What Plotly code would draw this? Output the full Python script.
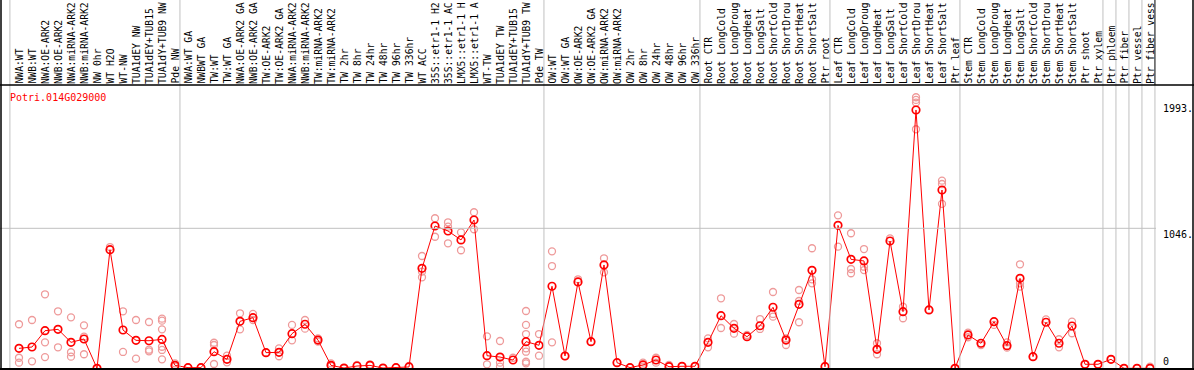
import plotly.graph_objects as go

# ---------------- data ----------------
labels = [
    "NWA:WT", "NWB:WT", "NWA:OE-ARK2", "NWB:OE-ARK2", "NWA:miRNA-ARK2", "NWB:miRNA-ARK2",
    "NW 0hr", "WT H2O", "WT-NW", "TUA1dEY NW", "TUA1dEY+TUB15", "TUA1dY+TUB9 NW", "Pde NW",
    "NWA:WT GA", "NWBWT GA", "TW:WT", "TW:WT GA", "NWA:OE-ARK2 GA", "NWB:OE-ARK2 GA",
    "TW:OE-ARK2", "TW:OE-ARK2 GA", "NWA:miRNA-ARK2", "NWB:miRNA-ARK2", "TW:miRNA-ARK2",
    "TW:miRNA-ARK2", "TW 2hr", "TW 8hr", "TW 24hr", "TW 48hr", "TW 96hr", "TW 336hr",
    "WT ACC", "35S::etr1-1 H2", "35S::etr1-1 AC", "LMX5::etr1-1 H", "LMX5::etr1-1 A",
    "WT-TW", "TUA1dEY TW", "TUA1dEY+TUB15", "TUA1dY+TUB9 TW", "Pde TW",
    "OW:WT", "OW:WT GA", "OW:OE-ARK2", "OW:OE-ARK2 GA", "OW:miRNA-ARK2", "OW:miRNA-ARK2",
    "OW 2hr", "OW 8hr", "OW 24hr", "OW 48hr", "OW 96hr", "OW 336hr",
    "Root CTR", "Root LongCold", "Root LongDroug", "Root LongHeat", "Root LongSalt",
    "Root ShortCold", "Root ShortDrou", "Root ShortHeat", "Root ShortSalt", "Ptr root",
    "Leaf CTR", "Leaf LongCold", "Leaf LongDroug", "Leaf LongHeat", "Leaf LongSalt",
    "Leaf ShortCold", "Leaf ShortDrou", "Leaf ShortHeat", "Leaf ShortSalt", "Ptr leaf",
    "Stem CTR", "Stem LongCold", "Stem LongDroug", "Stem LongHeat", "Stem LongSalt",
    "Stem ShortCold", "Stem ShortDrou", "Stem ShortHeat", "Stem ShortSalt", "Ptr shoot",
    "Ptr xylem", "Ptr phloem", "Ptr fiber", "Ptr vessel", "Ptr fiber vess",
]

mean_values = [
    149, 159, 281, 291, 194, 219, 0, 886, 286, 209, 206, 216, 22,
    5, 5, 124, 67, 351, 378, 117, 119, 259, 329, 211, 22, 2, 17, 22, 2, 5, 10,
    747, 1063, 1026, 959, 1108, 94, 84, 62, 199, 172,
    613, 92, 645, 199, 772, 42, 5, 25, 62, 12, 15, 15,
    194, 393, 299, 236, 318, 456, 211, 478, 732, 12,
    1068, 814, 802, 142, 951, 423, 1930, 436, 1332, 0,
    249, 187, 348, 169, 672, 87, 344, 187, 316, 30, 30, 67, 0, 0, 0,
]

replicates = [
    [329, 79, 42], [361, 52], [553, 194, 84], [426, 157], [381, 120, 87], [321, 236, 105],
    [0], [906], [426, 122], [361, 72], [346, 139, 127], [371, 356, 291, 161, 137, 67], [37, 12],
    [5], [5], [191, 174, 32], [94, 45], [411, 291], [406, 361], [117], [149, 90], [324, 209],
    [361, 296], [224, 199], [37, 17], [0], [25], [30], [2], [5], [17],
    [839, 722, 680], [1121, 983], [1091, 1058, 934], [1016, 882], [1166, 1039],
    [239, 30], [204, 42, 12], [79], [428, 324, 256, 149, 124, 49, 37], [256, 94],
    [874, 764, 194], [92], [665], [199], [822, 717], [42], [5], [42, 12], [79, 42], [25], [15], [15],
    [224, 157], [523, 301], [331, 259], [249], [368, 294], [570, 406, 386], [224, 174],
    [585, 503, 344], [897, 665, 635], [17],
    [1143, 909], [1009, 742, 710], [891, 759, 734], [187, 105], [971], [460, 374],
    [2025, 2005, 1985, 1786], [436], [1402, 1377, 1228], [0],
    [266, 232], [174], [324], [194, 154], [777, 635, 610], [87], [366], [217, 157], [348, 262],
    [30], [30], [67], [0], [0], [12],
]

# group ends (index of last column in each group)
group_ends = [12, 40, 52, 62, 72, 83, 84, 85, 86, 87]

tick_vals = [0, 1046, 1993]
tick_text = ["0", "1046.", "1993."]
gene_name = "Potri.014G029000"

# ---------------- figure ----------------
W, H = 1194, 370
FONT = "DejaVu Sans Mono"
GRID = "#c0c0c0"
PINK = "#ee9a9a"

x_idx = list(range(len(labels)))
rep_x, rep_y = [], []
for i, reps in enumerate(replicates):
    for v in reps:
        rep_x.append(i)
        rep_y.append(v)

fig = go.Figure()
fig.add_trace(go.Scatter(
    x=rep_x, y=rep_y, mode="markers",
    marker=dict(symbol="circle-open", size=7, color=PINK, line=dict(width=1.3, color=PINK)),
    hoverinfo="skip", showlegend=False, cliponaxis=False,
))
fig.add_trace(go.Scatter(
    x=x_idx, y=mean_values, mode="lines+markers",
    line=dict(color="#ff0000", width=1),
    marker=dict(symbol="circle-open", size=7.5, color="#ff0000", line=dict(width=1.7, color="#ff0000")),
    showlegend=False, cliponaxis=False,
))

# pixel mapping: column i at 19 + 13*i px; value 0 at y=368.3 px, 1046 at 228.3 px
px_per_col = 13.0
x0_px = 19.0
xmin = -x0_px / px_per_col
xmax = (W - x0_px) / px_per_col
ppu = (368.3 - 228.3) / 1046.0
ymax = 368.3 / ppu
ymin = -(H - 368.3) / ppu

header_paper = 1 - 85.0 / H

shapes = []
sep_positions = [-0.7] + [g + 0.38 for g in group_ends]
for k, xs in enumerate(sep_positions):
    last = (k == len(sep_positions) - 1)
    if last:
        shapes.append(dict(type="line", xref="x", yref="paper", x0=xs, x1=xs,
                           y0=0, y1=header_paper, line=dict(color=GRID, width=1)))
        shapes.append(dict(type="line", xref="x", yref="paper", x0=xs, x1=xs,
                           y0=header_paper, y1=1, line=dict(color="black", width=1)))
    else:
        shapes.append(dict(type="line", xref="x", yref="paper", x0=xs, x1=xs,
                           y0=0, y1=1, line=dict(color=GRID, width=1)))
shapes.append(dict(type="line", xref="paper", yref="y", x0=0, x1=1156.0 / W,
                   y0=tick_vals[1], y1=tick_vals[1], line=dict(color=GRID, width=1)))
shapes.append(dict(type="line", xref="paper", yref="paper", x0=0, x1=1,
                   y0=header_paper, y1=header_paper, line=dict(color="black", width=1.5)))
shapes.append(dict(type="line", xref="paper", yref="paper", x0=0, x1=1,
                   y0=1 - 369.0 / H, y1=1 - 369.0 / H, line=dict(color="black", width=2)))
shapes.append(dict(type="line", xref="paper", yref="paper", x0=1.0 / W, x1=1.0 / W,
                   y0=0, y1=1, line=dict(color="black", width=1.5)))
shapes.append(dict(type="line", xref="paper", yref="paper", x0=1193.0 / W, x1=1193.0 / W,
                   y0=0, y1=1, line=dict(color="black", width=1.5)))

annotations = []
for i, lab in enumerate(labels):
    annotations.append(dict(
        x=i, y=header_paper, xref="x", yref="paper", text=lab, textangle=-90,
        xanchor="center", yanchor="bottom", showarrow=False,
        font=dict(family=FONT, size=9.7, color="black"), borderpad=0,
    ))
for v, t in zip(tick_vals, tick_text):
    annotations.append(dict(
        x=1162.0 / W, y=v, xref="paper", yref="y", text=t,
        xanchor="left", yanchor="bottom" if v == 0 else "top", showarrow=False,
        font=dict(family=FONT, size=10, color="black"), borderpad=0,
    ))
annotations.append(dict(
    x=9.0 / W, y=1 - 97.0 / H, xref="paper", yref="paper", text=gene_name,
    xanchor="left", yanchor="middle", showarrow=False,
    font=dict(family=FONT, size=10, color="#ff0000"), borderpad=0,
))

fig.update_layout(
    width=W, height=H,
    margin=dict(l=0, r=0, t=0, b=0, pad=0),
    paper_bgcolor="white", plot_bgcolor="white",
    xaxis=dict(range=[xmin, xmax], showgrid=False, zeroline=False, showticklabels=False,
               showline=False, ticks="", fixedrange=True),
    yaxis=dict(range=[ymin, ymax], showgrid=False, zeroline=False, showticklabels=False,
               showline=False, ticks="", fixedrange=True),
    shapes=shapes, annotations=annotations, showlegend=False,
)

fig.write_html(
    "out.html",
    config={"displayModeBar": False},
    post_script="document.body.style.margin='0';document.body.style.padding='0';",
)
